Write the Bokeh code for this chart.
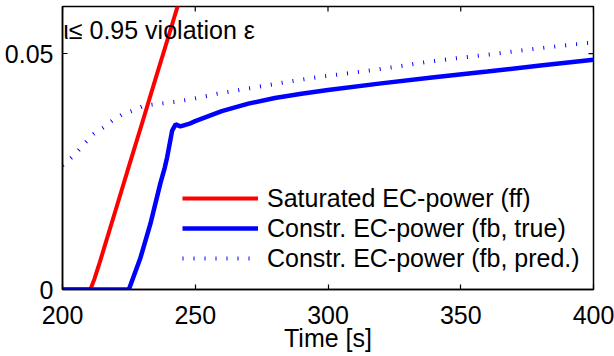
import math
from bokeh.plotting import figure
from bokeh.models import Range1d, FixedTicker, NumeralTickFormatter, Label
from bokeh.embed import file_html
from bokeh.resources import INLINE

# Axis ticks and range
x_ticks = [200, 250, 300, 350, 400]
y_ticks = [0, 0.05]
y_max = 0.06

# Saturated EC-power (ff)
t_ff = [200, 210.5, 212, 214, 216, 220, 225, 230, 235, 240, 245]
v_ff = [0, 0, 0.0022, 0.0057, 0.0094, 0.0168, 0.0261, 0.0353, 0.0446, 0.0538, 0.0631]

# Constr. EC-power (fb, true)
t_true = [200, 225, 229.4, 233.1, 236.9, 238.5, 239.4, 241.3, 242.6, 244.4, 247.6,
          250, 260, 270, 280, 290, 300, 320, 340, 360, 380, 400]
v_true = [0, 0, 0.0068, 0.0139, 0.0226, 0.0258, 0.0280, 0.0337, 0.0350, 0.0346, 0.0351,
          0.0357, 0.0378, 0.0394, 0.0406, 0.0415, 0.0423, 0.0437, 0.0450, 0.0462, 0.0475, 0.0487]

# Constr. EC-power (fb, pred.)
t_pred = [200, 204.3, 208.7, 211.8, 215.6, 218.7, 222.5, 226.3, 230.0, 233.8, 238.2, 242.6,
          247.0, 250.7, 258.3, 270.8, 283.4, 295.9, 308.5, 324.2, 336.7, 349.3, 361.8, 374.4, 386.9, 400]
v_pred = [0.0263, 0.0284, 0.0312, 0.0330, 0.0344, 0.0358, 0.0371, 0.0379, 0.0388, 0.0392, 0.0395, 0.0398,
          0.0402, 0.0406, 0.0415, 0.0427, 0.0439, 0.0450, 0.0459, 0.0471, 0.0482, 0.0491, 0.0499, 0.0508, 0.0516, 0.0524]

FONT = "Liberation Sans"
FS = "25px"

p = figure(width=614, height=356, output_backend="svg", toolbar_location=None,
           x_range=Range1d(x_ticks[0], x_ticks[-1]), y_range=Range1d(0, y_max),
           min_border_left=62, min_border_right=21, min_border_top=6, min_border_bottom=67)
p.background_fill_color = "white"
p.border_fill_color = "white"
p.grid.visible = False
p.outline_line_color = "black"
p.outline_line_width = 1.5

p.line(t_ff, v_ff, line_color="#ff0000", line_width=4, legend_label="Saturated EC-power (ff)")
p.line(t_true, v_true, line_color="#0000ff", line_width=4.5, legend_label="Constr. EC-power (fb, true)")
p.line(t_pred, v_pred, line_color="#0000ff", line_width=4, line_dash="1 10",
       legend_label="Constr. EC-power (fb, pred.)")

# mirrored inward ticks on the top and right edges
p.ray(x=x_ticks, y=[y_max] * len(x_ticks), length=5, length_units="screen",
      angle=-math.pi / 2, line_color="black", line_width=1.2)
p.ray(x=[x_ticks[-1]] * len(y_ticks), y=y_ticks, length=5, length_units="screen",
      angle=math.pi, line_color="black", line_width=1.2)

def style(ax):
    ax.major_tick_in = 5
    ax.major_tick_out = 0
    ax.minor_tick_in = 0
    ax.minor_tick_out = 0
    ax.axis_line_color = "black"
    ax.axis_line_width = 1.5
    ax.major_tick_line_color = "black"
    ax.major_tick_line_width = 1.2
    ax.major_label_text_font = FONT
    ax.major_label_text_font_size = FS
    ax.major_label_text_color = "black"

xa = p.xaxis[0]
xa.ticker = FixedTicker(ticks=x_ticks)
style(xa)
xa.major_label_standoff = 16
xa.axis_label = "Time [s]"
xa.axis_label_text_font = FONT
xa.axis_label_text_font_size = FS
xa.axis_label_text_font_style = "normal"
xa.axis_label_text_color = "black"
xa.axis_label_text_baseline = "top"
xa.axis_label_standoff = -3

ya = p.yaxis[0]
ya.ticker = FixedTicker(ticks=y_ticks)
ya.formatter = NumeralTickFormatter(format="0.[00]")
style(ya)
ya.major_label_standoff = 9

p.add_layout(Label(x=200.3, y=0.0550, text="ι≤ 0.95 violation ε", text_font=FONT,
                   text_font_size=FS, text_color="black", text_baseline="middle"))

lg = p.legend[0]
lg.location = (120, 16)
lg.padding = 0
lg.margin = 0
lg.spacing = 0
lg.border_line_color = None
lg.background_fill_alpha = 0
lg.glyph_width = 76
lg.glyph_height = 30
lg.label_height = 30
lg.label_standoff = 9
lg.label_text_font = FONT
lg.label_text_font_size = FS
lg.label_text_color = "black"

open("out.html", "w").write(file_html(p, INLINE))
